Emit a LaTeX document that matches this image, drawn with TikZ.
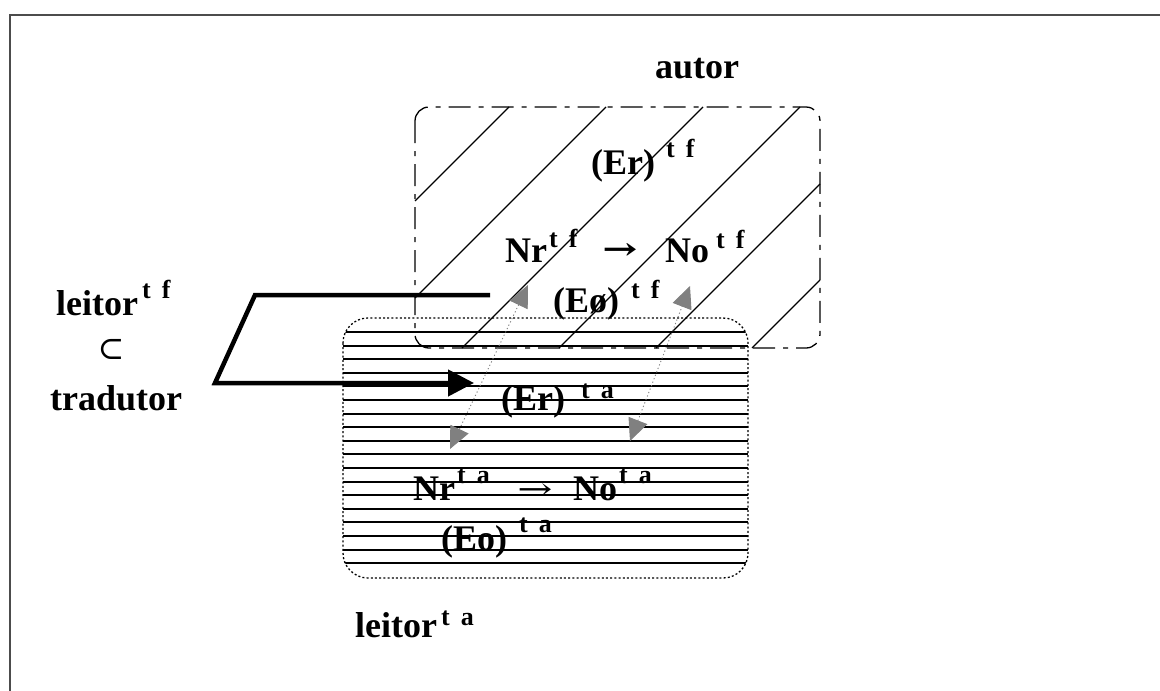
\documentclass[tikz,border=0pt]{standalone}
\usepackage{fontspec}
\usepackage{graphicx}
\setmainfont{Liberation Serif}
\newfontfamily\symf{DejaVu Serif}
\usetikzlibrary{arrows.meta}
\newcommand{\suptxt}[2]{#1\hspace{11pt}#2}
\begin{document}
\begin{tikzpicture}[x=1pt,y=-1pt,
  lbl/.style={anchor=base west,inner sep=0pt,font=\fontsize{36}{40}\selectfont\bfseries},
  suplbl/.style={anchor=base west,inner sep=0pt,font=\fontsize{26}{28}\selectfont\bfseries},
  symlbl/.style={inner sep=0pt,font=\fontsize{32}{34}\symf},
  frameline/.style={draw=black!70,line width=2.4pt},
  hatch/.style={draw=black,line width=1.3pt},
  hhatch/.style={draw=black,line width=2pt},
  autorbox/.style={draw=black,line width=1.3pt,rounded corners=14pt,dash pattern=on 22pt off 8pt on 5pt off 8pt},
  leitorbox/.style={draw=black,line width=1.3pt,rounded corners=25pt,dash pattern=on 2pt off 2.2pt},
  bracket/.style={draw=black,line width=4.5pt,line join=miter,-{Triangle[length=26pt,width=26pt]}},
  grayarrow/.style={draw=black!50,line width=0.9pt,dash pattern=on 1.2pt off 2.5pt,{Triangle[length=22pt,width=20pt,fill=black!50]}-{Triangle[length=22pt,width=20pt,fill=black!50]}}
]
\useasboundingbox (0,0) rectangle (1160,691);
\fill[white] (0,0) rectangle (1160,691);
% frame
\draw[frameline] (10,691) -- (10,15) -- (1160,15);

% lower box (leitor ta) with horizontal hatching
\begin{scope}
  \clip[rounded corners=25pt] (343,318) rectangle (748,578);
  \foreach \k in {0,...,17} {
    \draw[hhatch] (343,{332+13.6*\k}) -- (748,{332+13.6*\k});
  }
\end{scope}
\draw[leitorbox] (343,318) rectangle (748,578);

% upper box (autor) with diagonal hatching
\draw[hatch] (509,107) -- (415,201);
\draw[hatch] (606,107) -- (415,298);
\draw[hatch] (703,107) -- (462,348);
\draw[hatch] (800,107) -- (559,348);
\draw[hatch] (820,184) -- (656,348);
\draw[hatch] (820,280) -- (752,348);
\draw[autorbox] (415,107) rectangle (820,348);

% bracket arrow (leitor tf subset tradutor)
\coordinate (b0) at (490,295);
\coordinate (b1) at (255,295);
\coordinate (b2) at (215,383);
\coordinate (b3) at (474,383);
\draw[bracket] (b0) -- (b1) -- (b2) -- (b3);

% gray double arrows
\coordinate (gA1) at (450,449);
\coordinate (gA2) at (528,285);
\coordinate (gB1) at (630,441);
\coordinate (gB2) at (690,286);
\draw[grayarrow] (gA1) -- (gA2);
\draw[grayarrow] (gB1) -- (gB2);

% labels
\node[lbl] (autor) at (655,78) {autor};
\node[lbl] (leitortf) at (56,315) {leitor};
\node[suplbl] (leitortfs) at (142,298) {\suptxt{t}{f}};
\node[symlbl] (subs) at (111,349) {⊂};
\node[lbl] (tradutor) at (50,410) {tradutor};
\node[lbl] (leitorta) at (355,637) {leitor};
\node[suplbl] (leitortas) at (441,625) {\suptxt{t}{a}};

\node[lbl] (er1) at (591,174) {(Er)};
\node[suplbl] (er1s) at (666,157) {\suptxt{t}{f}};
\node[lbl] (nr1) at (505,262) {Nr};
\node[suplbl] (nr1s) at (549,247) {\suptxt{t}{f}};
\node[symlbl,font=\fontsize{30}{32}\symf\bfseries] (ar1) at (620,252) {\scalebox{1.4}[1]{→}};
\node[lbl] (no1) at (665,262) {No};
\node[suplbl] (no1s) at (716,248) {\suptxt{t}{f}};
\node[lbl] (eo1) at (553,312) {(Eø)};
\node[suplbl] (eo1s) at (631,298) {\suptxt{t}{f}};

\node[lbl] (er2) at (501,410) {(Er)};
\node[suplbl] (er2s) at (581,398) {\suptxt{t}{a}};
\node[lbl] (nr2) at (413,500) {Nr};
\node[suplbl] (nr2s) at (457,483) {\suptxt{t}{a}};
\node[symlbl,font=\fontsize{30}{32}\symf] (ar2) at (535,492) {\scalebox{1.4}[1]{→}};
\node[lbl] (no2) at (573,500) {No};
\node[suplbl] (no2s) at (619,483) {\suptxt{t}{a}};
\node[lbl] (eo2) at (441,550) {(Eo)};
\node[suplbl] (eo2s) at (519,532) {\suptxt{t}{a}};
\end{tikzpicture}
\end{document}
